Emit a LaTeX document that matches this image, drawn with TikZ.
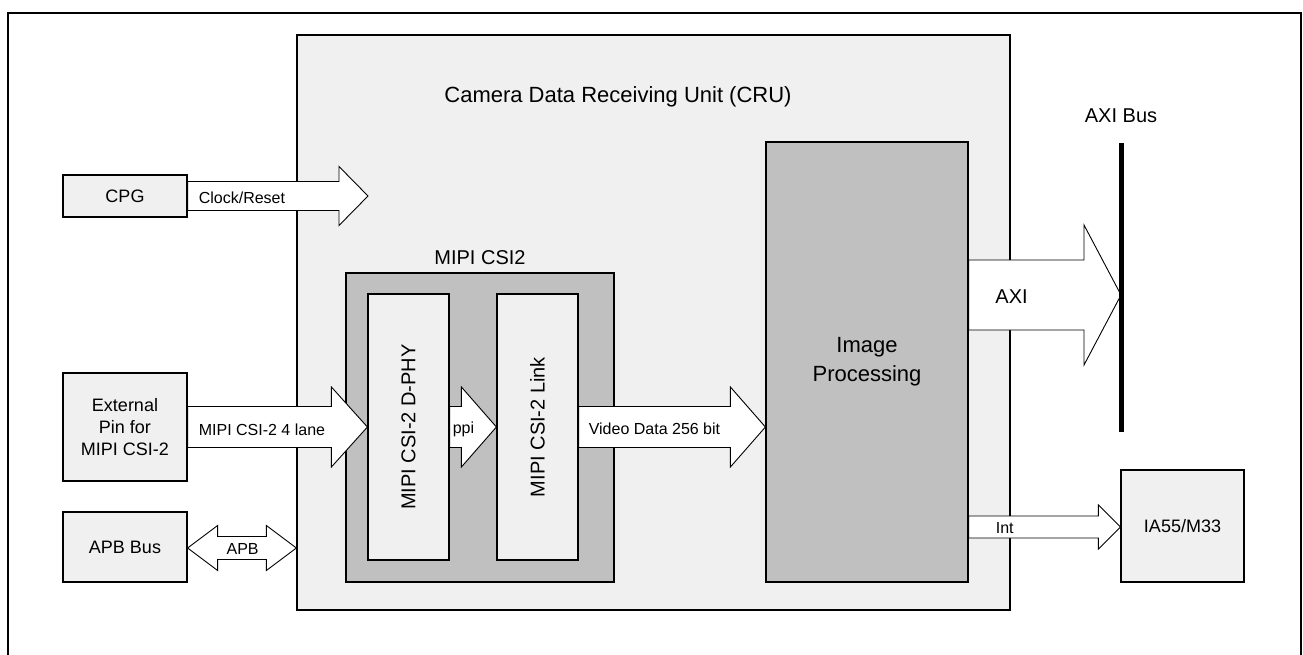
\documentclass[tikz,border=0pt]{standalone}
\usepackage{fontspec}
\setmainfont{Liberation Sans}
\usetikzlibrary{calc}
\definecolor{boxlight}{HTML}{F0F0F0}
\definecolor{boxdark}{HTML}{C0C0C0}
\newcommand{\fsz}[2]{\fontsize{#1}{#2}\selectfont}
% single block arrow: start, end, body half, head half, head length
\newcommand{\blockarrow}[5]{%
  \draw[barrow] let \p1=(#1), \p2=(#2) in
    (\x1,\y1+#3) -- (\x2-#5,\y1+#3) -- (\x2-#5,\y1+#4) -- (\x2,\y1)
    -- (\x2-#5,\y1-#4) -- (\x2-#5,\y1-#3) -- (\x1,\y1-#3) -- cycle;}
% double block arrow
\newcommand{\dblockarrow}[5]{%
  \draw[barrow] let \p1=(#1), \p2=(#2) in
    (\x1,\y1) -- (\x1+#5,\y1+#4) -- (\x1+#5,\y1+#3) -- (\x2-#5,\y1+#3)
    -- (\x2-#5,\y1+#4) -- (\x2,\y1) -- (\x2-#5,\y1-#4) -- (\x2-#5,\y1-#3)
    -- (\x1+#5,\y1-#3) -- (\x1+#5,\y1-#4) -- cycle;}
\tikzset{
  lbox/.style={draw, fill=boxlight, line width=1.2pt, inner sep=0pt, align=center, font=\fsz{18}{22}},
  dbox/.style={draw, fill=boxdark, line width=1.2pt, inner sep=0pt, align=center},
  barrow/.style={draw, fill=white, line width=0.9pt, line join=miter},
  alabel/.style={inner sep=0pt, font=\fsz{16}{19}},
}
\begin{document}
\begin{tikzpicture}[x=1pt, y=-1pt]
\useasboundingbox (0,0) rectangle (1303,655);
% outer frame
\draw[line width=2.5pt] (8,655) -- (8,13) -- (1301,13) -- (1301,655);

% CRU
\node[lbox, minimum width=713pt, minimum height=575pt] (cru) at (653.5,322.5) {};
\node[inner sep=0pt, font=\fsz{22}{26}] (title) at (618,97) {Camera Data Receiving Unit (CRU)};

% left boxes
\node[lbox, minimum width=124pt, minimum height=42pt] (cpg) at (125,196) {CPG};
\node[lbox, minimum width=124pt, minimum height=108pt] (ext) at (125,427) {External\\Pin for\\MIPI CSI-2};
\node[lbox, minimum width=124pt, minimum height=70pt] (apb) at (125,547) {APB Bus};

% MIPI CSI2
\node[dbox, minimum width=268pt, minimum height=309pt] (mipi) at (480,427.5) {};
\node[inner sep=0pt, font=\fsz{20}{24}] (mipilabel) at (480,258) {MIPI CSI2};
\node[lbox, minimum width=81pt, minimum height=266pt, font=\fsz{20}{24}] (dphy) at (408.5,427) {\rotatebox{90}{MIPI CSI-2 D-PHY}};
\node[lbox, minimum width=81pt, minimum height=266pt, font=\fsz{20}{24}] (link) at (537.5,427) {\rotatebox{90}{MIPI CSI-2 Link}};

% Image processing
\node[dbox, minimum width=202pt, minimum height=440pt, font=\fsz{22}{29}] (img) at (867,362) {Image\\Processing};

% IA55/M33
\node[lbox, minimum width=123pt, minimum height=112pt] (ia) at (1182.5,526) {IA55/M33};

% AXI bus
\coordinate (busTop) at (1121,143);
\coordinate (busBot) at (1121,432);
\node[inner sep=0pt, font=\fsz{20}{24}] (buslabel) at (1121,116) {AXI Bus};

% arrows
\coordinate (clkEnd) at (368,196);
\blockarrow{cpg.east}{clkEnd}{14.5pt}{29.5pt}{29pt}
\node[alabel, anchor=west] (clklabel) at ($(cpg.east)+(11,2)$) {Clock/Reset};

\blockarrow{ext.east}{dphy.west}{20.5pt}{40pt}{36pt}
\node[alabel, anchor=west] (lanelabel) at ($(ext.east)+(11,3)$) {MIPI CSI-2 4 lane};

\dblockarrow{$(apb.east)+(0,1)$}{$(cru.west)+(0,225.5)$}{11.5pt}{22.5pt}{30pt}
\node[alabel] (apblabel) at ($(apb.east)+(55,2)$) {APB};

\blockarrow{dphy.east}{link.west}{20.5pt}{40pt}{35pt}
\node[alabel, anchor=west] (ppilabel) at ($(dphy.east)+(3,2)$) {ppi};

\blockarrow{link.east}{img.west}{20.5pt}{40pt}{35pt}
\node[alabel, anchor=west] (vidlabel) at ($(link.east)+(10,2)$) {Video Data 256 bit};

\blockarrow{$(img.east)+(0,-67)$}{busTop}{35pt}{70pt}{37pt}
\node[inner sep=0pt, font=\fsz{20}{24}] (axilabel) at ($(img.east)+(43,-65)$) {AXI};

\blockarrow{$(img.east)+(0,165)$}{ia.west}{11pt}{22pt}{22pt}
\node[alabel, anchor=west] (intlabel) at ($(img.east)+(27,166)$) {Int};

\draw[line width=5pt] (busTop) -- (busBot);
\end{tikzpicture}
\end{document}
